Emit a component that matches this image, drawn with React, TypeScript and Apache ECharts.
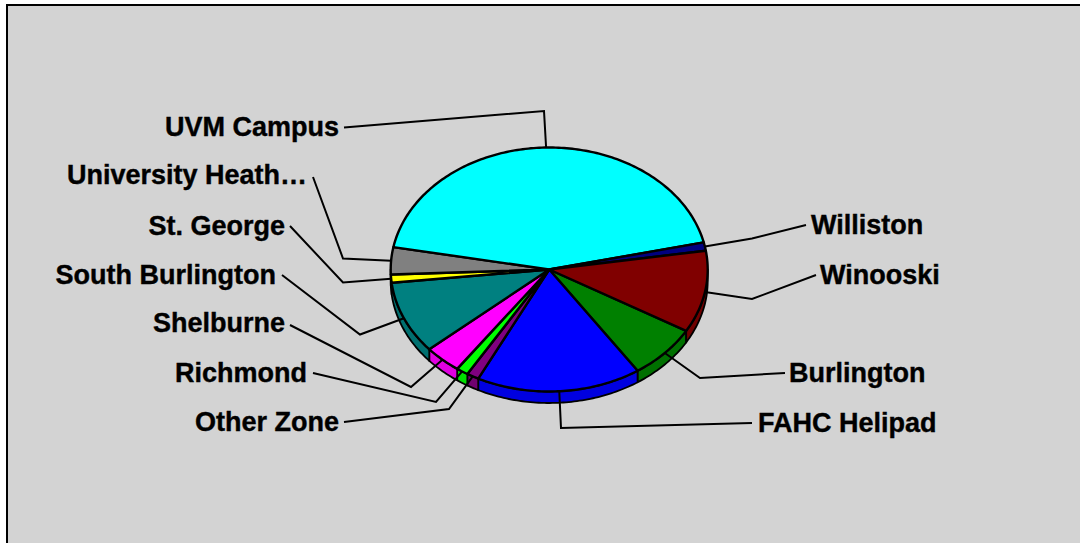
import React, { useEffect, useRef } from "react";
import * as echarts from "echarts";

const categories = ["Burlington", "FAHC Helipad", "Other Zone", "Richmond", "Shelburne", "South Burlington", "St. George", "University Heath…", "UVM Campus", "Williston", "Winooski"];
const shares = [7.2, 16.8, 1.25, 1.22, 3.8, 9.6, 1.08, 3.6, 43.5, 1.1, 10.85];
const topColors = ["#008000", "#0000FF", "#800080", "#00FF00", "#FF00FF", "#008080", "#FFFF00", "#808080", "#00FFFF", "#000080", "#800000"];
const wallColors = ["#007000", "#0000E0", "#700070", "#00E000", "#E000E0", "#007070", "#E0E000", "#707070", "#00E0E0", "#000070", "#700000"];

// Layout of the labels and the elbow of each leader line, in category order.
const labelAnchor = [[789, 373, "left"], [758, 423, "left"], [339, 422, "right"], [307, 373, "right"], [285, 323, "right"], [276, 275, "right"], [285, 226, "right"], [307, 175, "right"], [339, 127, "right"], [811, 225, "left"], [820, 275, "left"]];
const leaderEnd = [[785, 373], [752, 423], [344, 422], [313, 373], [290, 325], [282, 275], [290, 226], [313, 177], [344, 127.5], [806, 225], [816, 275]];
const leaderElbow = [[700, 378], [561, 428], [449, 409], [436, 402], [411, 387], [360, 334.5], [343, 282.5], [343, 258.5], [544, 111], [752, 238.5], [752, 299]];

const CX = 549.2, CY = 269.5, RX = 158.5, RY = 122, DEPTH = 11.5, START = 30.2;
const FONT = '"Liberation Sans", Arial, sans-serif';

const total = shares.reduce((a, b) => a + b, 0);
const bounds: number[] = [START];
shares.forEach((v, i) => bounds.push(bounds[i] + (v / total) * 360));

const onEdge = (deg: number, dy = 0): number[] => {
  const t = (deg * Math.PI) / 180;
  return [CX + RX * Math.cos(t), CY + RY * Math.sin(t) + dy];
};
const arc = (from: number, to: number, dy = 0): number[][] => {
  const n = Math.max(2, Math.ceil(Math.abs(to - from)));
  const out: number[][] = [];
  for (let k = 0; k <= n; k++) out.push(onEdge(from + ((to - from) * k) / n, dy));
  return out;
};
const strokeStyle = { stroke: "#000", lineWidth: 2.4, lineJoin: "round" as const };

export default function App() {
  const ref = useRef<HTMLDivElement>(null);
  useEffect(() => {
    const chart = echarts.init(ref.current!, undefined, { renderer: "svg", width: 1080, height: 543 });
    const rows = categories.map((name, i) => ({ name, value: shares[i] }));
    chart.setOption({
      animation: false,
      backgroundColor: "#FFFFFF",
      graphic: [{
        type: "rect", z: -10, silent: true,
        shape: { x: 7, y: 5, width: 1300, height: 800 },
        style: { fill: "#D3D3D3", stroke: "#000", lineWidth: 2 },
      }],
      series: [
        {
          type: "custom", coordinateSystem: "none", silent: true, z: 2, data: rows,
          renderItem: (params: any) => {
            const i = params.dataIndex;
            const children: any[] = [];
            [[0, 180], [360, 540]].forEach(([lo, hi]) => {
              const a = Math.max(bounds[i], lo), b = Math.min(bounds[i + 1], hi);
              if (b <= a) return;
              children.push({
                type: "polygon",
                shape: { points: [...arc(a, b), ...arc(b, a, DEPTH)] },
                style: { fill: wallColors[i], ...strokeStyle, lineWidth: 1.8 },
              });
            });
            return { type: "group", children };
          },
        },
        {
          type: "custom", coordinateSystem: "none", silent: true, z: 3, data: rows,
          renderItem: (params: any) => {
            const i = params.dataIndex;
            return {
              type: "polygon",
              shape: { points: [[CX, CY], ...arc(bounds[i], bounds[i + 1])] },
              style: { fill: topColors[i], ...strokeStyle },
            };
          },
        },
        {
          type: "custom", coordinateSystem: "none", silent: true, z: 4, data: rows,
          renderItem: (params: any) => {
            const i = params.dataIndex;
            const mid = (bounds[i] + bounds[i + 1]) / 2;
            const [tx, ty, align] = labelAnchor[i] as [number, number, string];
            return {
              type: "group",
              children: [
                {
                  type: "polyline",
                  shape: { points: [leaderEnd[i], leaderElbow[i], onEdge(mid)] },
                  style: { fill: "none", stroke: "#000", lineWidth: 2 },
                },
                {
                  type: "text",
                  style: { text: categories[i], x: tx, y: ty, align, verticalAlign: "middle", fill: "#000", stroke: "#000", lineWidth: 0.4, font: `bold 27px ${FONT}` },
                },
              ],
            };
          },
        },
      ],
    });
    return () => chart.dispose();
  }, []);
  return <div ref={ref} style={{ position: "fixed", left: 0, top: 0, width: 1080, height: 543 }} />;
}
